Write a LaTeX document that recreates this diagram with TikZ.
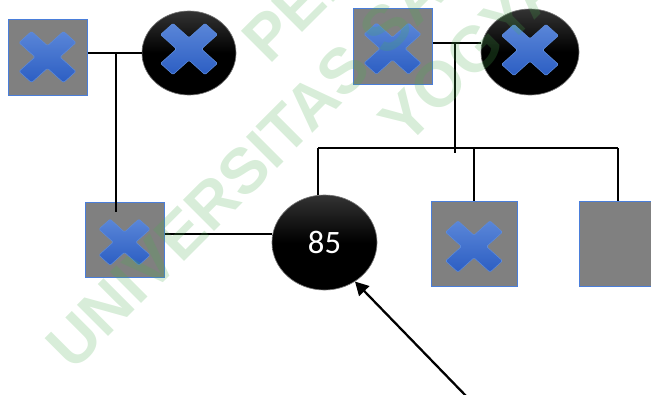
\documentclass[tikz,border=0pt]{standalone}
\usepackage{fontspec}
\usepackage{xcolor}
\usepackage{tikz}
\usetikzlibrary{positioning,arrows.meta,shapes.geometric,calc}
\newfontfamily\numfont{Carlito}
\newfontfamily\wmfont{Liberation Sans}
\definecolor{boxgray}{HTML}{808080}
\definecolor{edgeblue}{HTML}{4A7EDA}
\definecolor{xtop}{HTML}{5A86D8}
\definecolor{xbot}{HTML}{2C5EC3}
\definecolor{xedge}{HTML}{5C8BDC}
\definecolor{wmgreen}{RGB}{76,175,80}
\tikzset{
  xicon/.pic={
    \shade[top color=xtop,bottom color=xbot,draw=xedge,line width=0.4pt,
      rounded corners=1pt,yscale=0.9]
      (12.5,0) -- (28.5,16) -- (16,28.5) -- (0,12.5) -- (-16,28.5) -- (-28.5,16)
      -- (-12.5,0) -- (-28.5,-16) -- (-16,-28.5) -- (0,-12.5) -- (16,-28.5)
      -- (28.5,-16) -- cycle;
  }
}

\begin{document}
\begin{tikzpicture}[x=0.75pt,y=-0.75pt,
  sq/.style={rectangle,fill=boxgray,draw=edgeblue,line width=0.75pt,inner sep=0pt,
    minimum width=59.25pt,minimum height=57pt},
  bigsq/.style={sq,minimum width=64.5pt,minimum height=63.75pt},
  ell/.style={ellipse,draw=black!55,line width=0.5pt,inner sep=0pt,
    top color=black!80,bottom color=black,middle color=black},
  link/.style={draw=black,line width=1.9pt},
  arr/.style={link,line width=1.7pt,-{Triangle[length=10pt,width=10.5pt]}},
  wm/.style={text=wmgreen,text opacity=0.22,rotate=45,anchor=base west,inner sep=0pt,
    font=\wmfont\bfseries\fontsize{48}{58}\selectfont}]
  \useasboundingbox (0,0) rectangle (651,394);
  \clip (0,0) rectangle (651,394);
  % left group
  \node[sq] (sqA) at (47.5,57) {};
  \node[ell,minimum width=70.5pt,minimum height=63pt] (ellB) at (189,53) {};
  \node[sq,minimum height=56.25pt] (sqC) at (124.5,239.5) {};
  \pic at (sqA) {xicon};
  \pic at ([yshift=3pt]ellB.center) {xicon};
  \pic[scale=0.9] at ([yshift=-2pt]sqC.center) {xicon};
  \coordinate (jL) at (116,53);
  \draw[link] (sqA.east |- ellB.west) -- (ellB.west);
  \draw[link] (jL) -- ($(jL |- sqC.north)+(0,10)$);
  % right group
  \node[sq] (sqD) at (392.5,46) {};
  \node[ell,minimum width=73.5pt,minimum height=64.5pt] (ellE) at (530,52) {};
  \pic at ([yshift=-2pt]sqD.center) {xicon};
  \pic at ([yshift=1.5pt]ellE.center) {xicon};
  \coordinate (jR) at (455,43);
  \draw[link] ([yshift=2.25pt]sqD.east) -- ([yshift=2.25pt]sqD.east -| ellE.west);
  \draw[link] (jR) -- (455,153);
  % bottom row
  \node[ell,minimum width=78.75pt,minimum height=71.25pt,text=white,
    font=\numfont\fontsize{24.5}{28}\selectfont] (ell85) at (324.5,242.5) {85};
  \node[bigsq] (sqF) at (474,243.5) {};
  \node[bigsq] (sqG) at (622,244) {};
  \pic at ([yshift=-2.25pt]sqF.center) {xicon};
  \coordinate (busL) at (318,148);
  \coordinate (busR) at (618,148);
  \draw[link] (busL) -- (busR);
  \draw[link] (busL) -- (busL |- ell85.north);
  \draw[link] (sqF.north |- busL) -- (sqF.north);
  \draw[link] (busR) -- (busR |- sqG.north);
  \draw[link] ([yshift=4pt]sqC.east) -- ([yshift=4pt]sqC.east -| ell85.west);
  % pointer
  \coordinate (tail) at (468,398);
  \draw[arr] (tail) -- (ell85.-52);
  % watermark
  \node[wm] (wmTop) at (269.5,66) {PERPUSTAKAAN};
  \node[wm] (wmMid) at (73,372.5) {UNIVERSITAS SANATA DHARMA};
  \node[wm] (wmBot) at (406.5,148) {YOGYAKARTA};
\end{tikzpicture}
\end{document}
